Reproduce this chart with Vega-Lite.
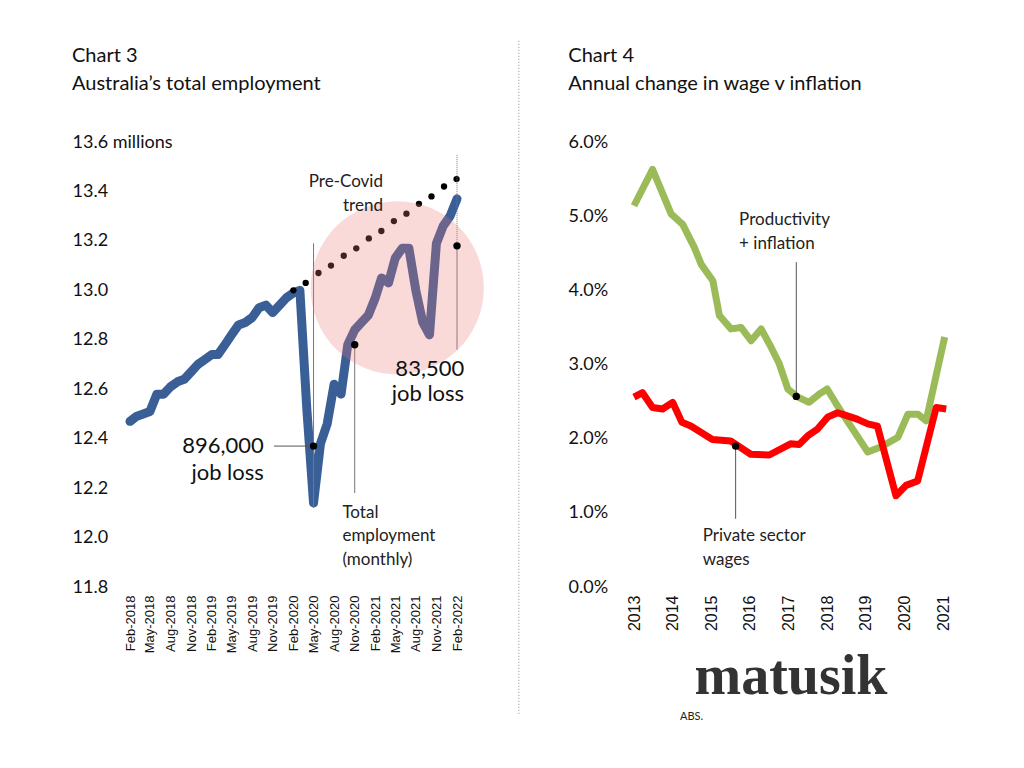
{
  "$schema": "https://vega.github.io/schema/vega-lite/v6.json",
  "background": "white",
  "padding": {"left": 72, "top": 38, "right": 10, "bottom": 5},
  "spacing": 34,
  "title": {"text": "ABS.", "orient": "bottom", "anchor": "start", "dx": 608, "offset": -3, "fontSize": 11, "font": "Lato", "fontWeight": "normal", "color": "#222"},
  "config": {
    "view": {"stroke": null},
    "axis": {"domain": false, "ticks": false, "grid": false, "labelColor": "#111", "title": null},
    "title": {"font": "Lato", "fontSize": 20, "fontWeight": "normal", "color": "#111", "anchor": "start", "lineHeight": 28}
  },
  "datasets": {
    "emp": [
      {"date": "2018-02-01", "v": 12.47}, {"date": "2018-03-01", "v": 12.49}, {"date": "2018-04-01", "v": 12.50},
      {"date": "2018-05-01", "v": 12.51}, {"date": "2018-06-01", "v": 12.58}, {"date": "2018-07-01", "v": 12.58},
      {"date": "2018-08-01", "v": 12.61}, {"date": "2018-09-01", "v": 12.63}, {"date": "2018-10-01", "v": 12.64},
      {"date": "2018-11-01", "v": 12.67}, {"date": "2018-12-01", "v": 12.70}, {"date": "2019-01-01", "v": 12.72},
      {"date": "2019-02-01", "v": 12.74}, {"date": "2019-03-01", "v": 12.74}, {"date": "2019-04-01", "v": 12.78},
      {"date": "2019-05-01", "v": 12.82}, {"date": "2019-06-01", "v": 12.86}, {"date": "2019-07-01", "v": 12.87},
      {"date": "2019-08-01", "v": 12.89}, {"date": "2019-09-01", "v": 12.93}, {"date": "2019-10-01", "v": 12.94},
      {"date": "2019-11-01", "v": 12.91}, {"date": "2019-12-01", "v": 12.94}, {"date": "2020-01-01", "v": 12.97},
      {"date": "2020-02-01", "v": 12.99}, {"date": "2020-03-01", "v": 13.00}, {"date": "2020-04-01", "v": 12.52},
      {"date": "2020-05-01", "v": 12.14}, {"date": "2020-06-01", "v": 12.38}, {"date": "2020-07-01", "v": 12.46},
      {"date": "2020-08-01", "v": 12.62}, {"date": "2020-09-01", "v": 12.58}, {"date": "2020-10-01", "v": 12.78},
      {"date": "2020-11-01", "v": 12.84}, {"date": "2020-12-01", "v": 12.87}, {"date": "2021-01-01", "v": 12.90},
      {"date": "2021-02-01", "v": 12.97}, {"date": "2021-03-01", "v": 13.05}, {"date": "2021-04-01", "v": 13.03},
      {"date": "2021-05-01", "v": 13.13}, {"date": "2021-06-01", "v": 13.17}, {"date": "2021-07-01", "v": 13.17},
      {"date": "2021-08-01", "v": 13.00}, {"date": "2021-09-01", "v": 12.87}, {"date": "2021-10-01", "v": 12.82},
      {"date": "2021-11-01", "v": 13.19}, {"date": "2021-12-01", "v": 13.26}, {"date": "2022-01-01", "v": 13.30},
      {"date": "2022-02-01", "v": 13.37}
    ],
    "trend": [
      {"date": "2020-02-01", "v": 13.00}, {"date": "2020-03-27", "v": 13.03}, {"date": "2020-05-23", "v": 13.07},
      {"date": "2020-07-18", "v": 13.10}, {"date": "2020-09-13", "v": 13.14}, {"date": "2020-11-08", "v": 13.17},
      {"date": "2021-01-03", "v": 13.21}, {"date": "2021-02-28", "v": 13.24}, {"date": "2021-04-25", "v": 13.28},
      {"date": "2021-06-20", "v": 13.31}, {"date": "2021-08-15", "v": 13.35}, {"date": "2021-10-10", "v": 13.38},
      {"date": "2021-12-05", "v": 13.42}, {"date": "2022-01-30", "v": 13.45}
    ],
    "prod": [
      {"t": 2013.0, "v": 5.14}, {"t": 2013.48, "v": 5.63}, {"t": 2013.96, "v": 5.03}, {"t": 2014.26, "v": 4.89},
      {"t": 2014.56, "v": 4.58}, {"t": 2014.74, "v": 4.35}, {"t": 2015.04, "v": 4.13}, {"t": 2015.21, "v": 3.66},
      {"t": 2015.51, "v": 3.48}, {"t": 2015.77, "v": 3.50}, {"t": 2016.03, "v": 3.32}, {"t": 2016.29, "v": 3.48},
      {"t": 2016.55, "v": 3.23}, {"t": 2016.76, "v": 3.01}, {"t": 2016.98, "v": 2.67}, {"t": 2017.24, "v": 2.56},
      {"t": 2017.53, "v": 2.49}, {"t": 2017.79, "v": 2.60}, {"t": 2018.0, "v": 2.67}, {"t": 2018.28, "v": 2.43},
      {"t": 2018.62, "v": 2.16}, {"t": 2019.05, "v": 1.82}, {"t": 2019.4, "v": 1.89}, {"t": 2019.83, "v": 2.02},
      {"t": 2020.09, "v": 2.33}, {"t": 2020.35, "v": 2.33}, {"t": 2020.56, "v": 2.24}, {"t": 2021.04, "v": 3.37}
    ],
    "wages": [
      {"t": 2013.0, "v": 2.56}, {"t": 2013.22, "v": 2.62}, {"t": 2013.48, "v": 2.42}, {"t": 2013.74, "v": 2.40},
      {"t": 2014.0, "v": 2.49}, {"t": 2014.24, "v": 2.22}, {"t": 2014.47, "v": 2.17}, {"t": 2015.03, "v": 1.99},
      {"t": 2015.5, "v": 1.97}, {"t": 2016.02, "v": 1.79}, {"t": 2016.5, "v": 1.78}, {"t": 2017.05, "v": 1.93},
      {"t": 2017.27, "v": 1.92}, {"t": 2017.5, "v": 2.04}, {"t": 2017.75, "v": 2.13}, {"t": 2018.01, "v": 2.29},
      {"t": 2018.27, "v": 2.35}, {"t": 2018.62, "v": 2.29}, {"t": 2018.79, "v": 2.26}, {"t": 2019.05, "v": 2.20},
      {"t": 2019.3, "v": 2.17}, {"t": 2019.78, "v": 1.23}, {"t": 2020.04, "v": 1.37}, {"t": 2020.34, "v": 1.43},
      {"t": 2020.82, "v": 2.42}, {"t": 2021.08, "v": 2.40}
    ]
  },
  "hconcat": [
    {
      "width": 327,
      "height": 445,
      "title": {"text": ["Chart 3", "Australia’s total employment"], "dx": 0, "offset": 39},
      "encoding": {
        "x": {
          "field": "date", "type": "temporal",
          "scale": {"type": "utc", "domain": [{"year": 2018, "month": 2, "date": 1, "utc": true}, {"year": 2022, "month": 2, "date": 1, "utc": true}]},
          "axis": {
            "format": "%b-%Y", "labelAngle": -90, "labelFont": "Liberation Sans", "labelFontSize": 13, "labelPadding": 8,
            "values": [
              {"year": 2018, "month": 2, "date": 1, "utc": true}, {"year": 2018, "month": 5, "date": 1, "utc": true},
              {"year": 2018, "month": 8, "date": 1, "utc": true}, {"year": 2018, "month": 11, "date": 1, "utc": true},
              {"year": 2019, "month": 2, "date": 1, "utc": true}, {"year": 2019, "month": 5, "date": 1, "utc": true},
              {"year": 2019, "month": 8, "date": 1, "utc": true}, {"year": 2019, "month": 11, "date": 1, "utc": true},
              {"year": 2020, "month": 2, "date": 1, "utc": true}, {"year": 2020, "month": 5, "date": 1, "utc": true},
              {"year": 2020, "month": 8, "date": 1, "utc": true}, {"year": 2020, "month": 11, "date": 1, "utc": true},
              {"year": 2021, "month": 2, "date": 1, "utc": true}, {"year": 2021, "month": 5, "date": 1, "utc": true},
              {"year": 2021, "month": 8, "date": 1, "utc": true}, {"year": 2021, "month": 11, "date": 1, "utc": true},
              {"year": 2022, "month": 2, "date": 1, "utc": true}
            ]
          }
        },
        "y": {
          "field": "v", "type": "quantitative",
          "scale": {"domain": [11.8, 13.6], "nice": false, "zero": false},
          "axis": {
            "values": [11.8, 12.0, 12.2, 12.4, 12.6, 12.8, 13.0, 13.2, 13.4, 13.6],
            "labelExpr": "datum.value > 13.55 ? '13.6 millions' : format(datum.value, '.1f')",
            "labelAlign": "left", "labelPadding": 58, "labelFont": "Lato", "labelFontSize": 18
          }
        }
      },
      "layer": [
        {"data": {"name": "emp"}, "mark": {"type": "line", "color": "#3a5f96", "strokeWidth": 9, "strokeJoin": "round", "strokeCap": "round", "clip": false}},
        {"data": {"name": "emp"}, "transform": [{"filter": "datum.date <= '2020-02-01'"}], "mark": {"type": "point", "filled": true, "color": "black", "size": 40, "opacity": 1}},
        {"data": {"name": "trend"}, "mark": {"type": "point", "filled": true, "color": "black", "size": 40, "opacity": 1, "clip": false}},
        {"data": {"values": [{"date": "2020-05-01", "v": 12.12, "v2": 13.19}, {"date": "2020-11-01", "v": 12.18, "v2": 12.78}, {"date": "2022-02-01", "v": 12.76, "v2": 13.18}]},
         "mark": {"type": "rule", "color": "#777", "strokeWidth": 1, "clip": false}, "encoding": {"y2": {"field": "v2"}}},
        {"data": {"values": [{"date": "2022-02-01", "v": 13.18, "v2": 13.55}]},
         "mark": {"type": "rule", "color": "#777", "strokeWidth": 1, "strokeDash": [1, 1], "clip": false}, "encoding": {"y2": {"field": "v2"}}},
        {"data": {"values": [{"date": "2019-11-06", "date2": "2020-05-01", "v": 12.37}]},
         "mark": {"type": "rule", "color": "#555", "strokeWidth": 1}, "encoding": {"x2": {"field": "date2"}}},
        {"data": {"values": [{"date": "2021-05-10", "v": 13.01}]},
         "mark": {"type": "point", "filled": true, "color": "#ee7777", "opacity": 0.28, "size": 30000, "clip": false}},
        {"data": {"values": [{"date": "2020-05-01", "v": 12.37}, {"date": "2020-11-01", "v": 12.78}, {"date": "2022-02-01", "v": 13.18}]},
         "mark": {"type": "point", "filled": true, "color": "black", "size": 55, "opacity": 1, "clip": false}},
        {"data": {"values": [{"date": "2021-03-07", "v": 13.44, "label": "Pre-Covid"}, {"date": "2021-03-07", "v": 13.34, "label": "trend"}]},
         "mark": {"type": "text", "align": "right", "baseline": "middle", "font": "Lato", "fontSize": 17, "color": "#222"}, "encoding": {"text": {"field": "label"}}},
        {"data": {"values": [{"date": "2020-09-07", "v": 12.10, "label": "Total"}, {"date": "2020-09-07", "v": 12.005, "label": "employment"}, {"date": "2020-09-07", "v": 11.91, "label": "(monthly)"}]},
         "mark": {"type": "text", "align": "left", "baseline": "middle", "font": "Lato", "fontSize": 17, "color": "#222"}, "encoding": {"text": {"field": "label"}}},
        {"data": {"values": [{"date": "2019-09-22", "v": 12.37, "label": "896,000"}, {"date": "2019-09-22", "v": 12.26, "label": "job loss"}, {"date": "2022-03-05", "v": 12.68, "label": "83,500"}, {"date": "2022-03-05", "v": 12.58, "label": "job loss"}]},
         "mark": {"type": "text", "align": "right", "baseline": "middle", "font": "Lato", "fontSize": 22, "color": "#111", "clip": false}, "encoding": {"text": {"field": "label"}}}
      ]
    },
    {
      "width": 313,
      "height": 445,
      "title": {"text": ["Chart 4", "Annual change in wage v inflation"], "dx": 50, "offset": -56},
      "encoding": {
        "x": {
          "field": "t", "type": "quantitative",
          "scale": {"domain": [2013, 2021.1], "nice": false, "zero": false},
          "axis": {"values": [2013, 2014, 2015, 2016, 2017, 2018, 2019, 2020, 2021], "format": "d", "labelAngle": -90,
                   "labelFont": "Liberation Sans", "labelFontSize": 16, "labelPadding": 8,
                   "title": "matusik", "titleFont": "Liberation Serif", "titleFontSize": 56, "titleFontWeight": "bold", "titleColor": "#333", "titlePadding": 19}
        },
        "y": {
          "field": "v", "type": "quantitative",
          "scale": {"domain": [0, 6], "nice": false},
          "axis": {"values": [0, 1, 2, 3, 4, 5, 6], "labelExpr": "format(datum.value, '.1f') + '%'",
                   "labelAlign": "left", "labelPadding": 66, "labelFont": "Lato", "labelFontSize": 18}
        }
      },
      "layer": [
        {"data": {"values": [{"t": 2010.02, "v": -1.71, "v2": 7.39}]},
         "mark": {"type": "rule", "color": "#888", "strokeWidth": 1, "strokeDash": [1, 2], "clip": false}, "encoding": {"y2": {"field": "v2"}}},
        {"data": {"name": "prod"}, "mark": {"type": "line", "color": "#9bbb59", "strokeWidth": 7, "strokeJoin": "round", "clip": false}},
        {"data": {"name": "wages"}, "mark": {"type": "line", "color": "#ff0000", "strokeWidth": 7, "strokeJoin": "round", "clip": false}},
        {"data": {"values": [{"t": 2017.2, "v": 2.57, "v2": 4.38}, {"t": 2015.63, "v": 0.92, "v2": 1.9}]},
         "mark": {"type": "rule", "color": "#555", "strokeWidth": 1}, "encoding": {"y2": {"field": "v2"}}},
        {"data": {"values": [{"t": 2017.2, "v": 2.57}, {"t": 2015.63, "v": 1.9}]},
         "mark": {"type": "point", "filled": true, "color": "black", "size": 55, "opacity": 1}},
        {"data": {"values": [{"t": 2015.72, "v": 4.95, "label": "Productivity"}, {"t": 2015.72, "v": 4.62, "label": "+ inflation"}, {"t": 2014.78, "v": 0.69, "label": "Private sector"}, {"t": 2014.78, "v": 0.36, "label": "wages"}]},
         "mark": {"type": "text", "align": "left", "baseline": "middle", "font": "Lato", "fontSize": 17, "color": "#222"}, "encoding": {"text": {"field": "label"}}}
      ]
    }
  ]
}
